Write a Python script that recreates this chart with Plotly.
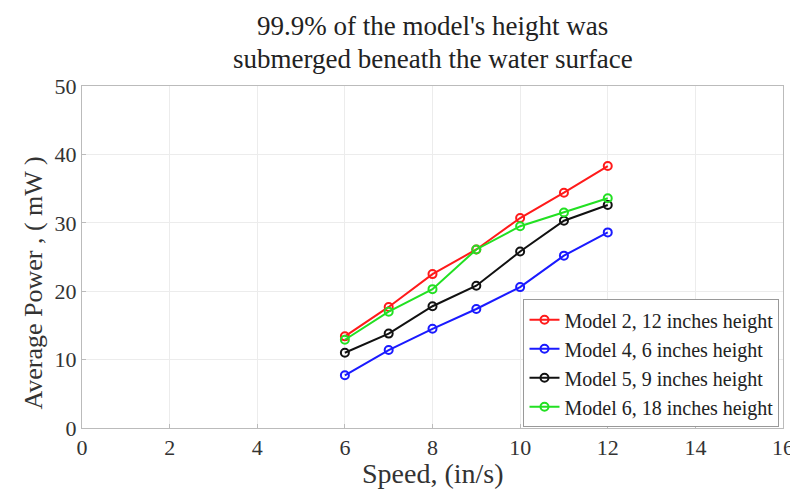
import plotly.graph_objects as go

speed = [6, 7, 8, 9, 10, 11, 12]
model2 = [13.4, 17.7, 22.5, 26.1, 30.7, 34.4, 38.3]
model4 = [7.7, 11.4, 14.5, 17.4, 20.6, 25.2, 28.6]
model5 = [11.0, 13.8, 17.8, 20.8, 25.8, 30.3, 32.6]
model6 = [12.9, 17.0, 20.3, 26.1, 29.5, 31.5, 33.6]

series = [
    ("Model 2, 12 inches height", model2, "#ff1a1a"),
    ("Model 4, 6 inches height", model4, "#1a1aff"),
    ("Model 5, 9 inches height", model5, "#111111"),
    ("Model 6, 18 inches height", model6, "#22e022"),
]
title_lines = ["99.9% of the model's height was", "submerged beneath the water surface"]
x_title = "Speed, (in/s)"
y_title = "Average Power , ( mW )"

font = "Liberation Serif"
fig = go.Figure()
for name, vals, col in series:
    fig.add_trace(go.Scatter(
        x=speed, y=vals, name=name, mode="lines+markers",
        line=dict(color=col, width=2),
        marker=dict(symbol="circle-open", size=8, color=col, line=dict(width=2, color=col)),
    ))

axis_common = dict(
    showline=True, linecolor="#bbbbbb", linewidth=1, mirror=True,
    showgrid=True, gridcolor="#ececec", gridwidth=1,
    zeroline=False, ticks="inside", ticklen=4, tickcolor="#bbbbbb",
    tickfont=dict(family=font, size=22, color="#333333"),
    ticklabeloverflow="allow",
)

fig.add_annotation(text=title_lines[0], xref="paper", yref="paper", x=0.5, y=1.226,
                   xanchor="center", yanchor="top", showarrow=False,
                   font=dict(family=font, size=27, color="#222222"))
fig.add_annotation(text=title_lines[1], xref="paper", yref="paper", x=0.5, y=1.079,
                   xanchor="center", yanchor="middle", showarrow=False,
                   font=dict(family=font, size=27, color="#222222"))

fig.add_annotation(text=y_title, xref="paper", yref="paper", x=-0.069, y=0.424,
                   xanchor="center", yanchor="middle", textangle=-90, showarrow=False,
                   font=dict(family=font, size=26, color="#333333"))
fig.add_annotation(text=x_title, xref="paper", yref="paper", x=0.5, y=-0.132,
                   xanchor="center", yanchor="middle", showarrow=False,
                   font=dict(family=font, size=28, color="#333333"))

fig.update_layout(
    width=798, height=496,
    font=dict(family=font),
    margin=dict(l=74, r=18, t=78, b=76),
    paper_bgcolor="white", plot_bgcolor="white",
    xaxis=dict(range=[0, 16], dtick=2, **axis_common),
    yaxis=dict(range=[0, 50], dtick=10, **axis_common),
    legend=dict(x=0.995, y=0.002, xanchor="right", yanchor="bottom",
                bgcolor="white", bordercolor="#999999", borderwidth=1,
                font=dict(family=font, size=20, color="#222222"),
                tracegroupgap=0, itemwidth=30),
    showlegend=True,
)

fig.write_html("out.html")
